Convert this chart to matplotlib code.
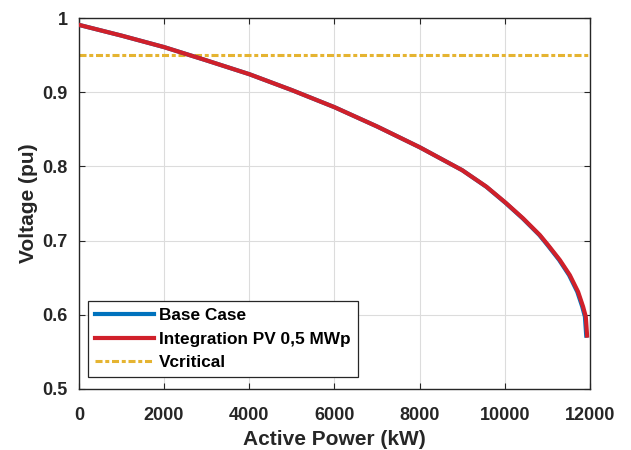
import matplotlib
matplotlib.use("Agg")
import matplotlib.pyplot as plt

plt.rcParams['font.family'] = ['Liberation Sans', 'DejaVu Sans']

# Data
power_pv = [0, 1000, 2000, 3000, 4000, 5000, 6000, 7000, 8000, 9000, 9570,
            10023, 10430, 10822, 11017, 11291, 11526, 11721, 11838, 11901, 11932]
volt_pv = [0.991, 0.9765, 0.961, 0.943, 0.9245, 0.903, 0.880, 0.854, 0.826,
           0.795, 0.7727, 0.751, 0.730, 0.7076, 0.694, 0.674, 0.6536, 0.631,
           0.611, 0.5975, 0.572]
power_base = [0, 1000, 2000, 3000, 4000, 5000, 6000, 7000, 8000, 9000, 9565,
              10015, 10420, 10810, 11003, 11275, 11508, 11702, 11818, 11881, 11912]
volt_base = [0.991, 0.9765, 0.961, 0.943, 0.9245, 0.903, 0.880, 0.854, 0.826,
             0.795, 0.7727, 0.751, 0.730, 0.7076, 0.694, 0.674, 0.6536, 0.631,
             0.611, 0.5975, 0.572]
v_critical = 0.95
x_limits = [0, 12000]
y_limits = [0.5, 1.0]
x_ticks = [0, 2000, 4000, 6000, 8000, 10000, 12000]
y_ticks = [0.5, 0.6, 0.7, 0.8, 0.9, 1.0]
y_tick_labels = ['0.5', '0.6', '0.7', '0.8', '0.9', '1']

fig = plt.figure(figsize=(6.31, 4.5), dpi=100)
ax = fig.add_axes([0.125, 0.1356, 0.81, 0.824])

ax.plot(power_base, volt_base, color='#0072BD', lw=3.0, label='Base Case',
        zorder=3, solid_joinstyle='round')
ax.plot(power_pv, volt_pv, color='#D0202A', lw=3.0, label='Integration PV 0,5 MWp',
        zorder=4, solid_joinstyle='round')
ax.axhline(v_critical, color='#E5B431', lw=2.2, ls=(0, (2.3, 0.9, 1.3, 0.9)),
           label='Vcritical', zorder=2)

ax.set_xlim(x_limits)
ax.set_ylim(y_limits)
ax.set_xticks(x_ticks)
ax.set_xticklabels([str(t) for t in x_ticks])
ax.set_yticks(y_ticks)
ax.set_yticklabels(y_tick_labels)
ax.grid(True, color='#DCDCDC', lw=0.8)
ax.set_axisbelow(True)
ax.tick_params(direction='in', length=4, width=0.8, top=True, right=True,
               labelsize=13, colors='#262626')
ax.tick_params(axis='y', pad=8)
ax.tick_params(axis='x', pad=13)
for lab in ax.get_xticklabels() + ax.get_yticklabels():
    lab.set_fontweight('bold')
for s in ax.spines.values():
    s.set_color('#262626')
    s.set_linewidth(1.0)

ax.set_xlabel('Active Power (kW)', fontsize=15, fontweight='bold', color='#262626', labelpad=4)
ax.set_ylabel('Voltage (pu)', fontsize=15, fontweight='bold', color='#262626', labelpad=3)

leg = ax.legend(loc='lower left', bbox_to_anchor=(0.0176, 0.032), fancybox=False,
                framealpha=1, edgecolor='#262626', prop={'weight': 'bold', 'size': 12.4},
                handlelength=3.45, handletextpad=0.3, borderpad=0.4, labelspacing=0.5,
                borderaxespad=0)
leg.get_frame().set_linewidth(0.9)

fig.savefig('out.png', dpi=100)
